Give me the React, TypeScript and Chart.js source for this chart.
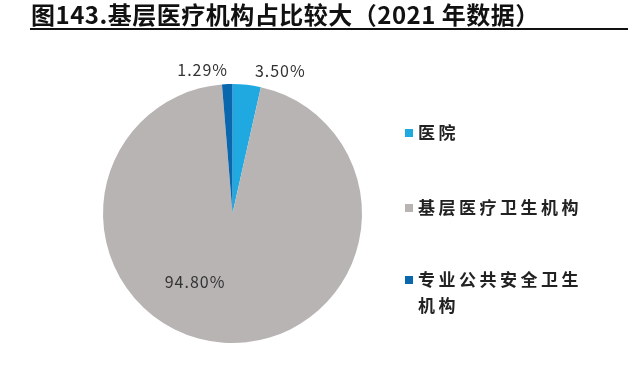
import React, { useEffect, useRef } from "react";
import { Chart, registerables } from "chart.js";

Chart.register(...registerables);

const categories = ["医院", "基层医疗卫生机构", "专业公共安全卫生机构"];
const legendLines = [["医院"], ["基层医疗卫生机构"], ["专业公共安全卫生", "机构"]];
const shares = [3.5, 94.8, 1.29];
const valueLabels = ["3.50%", "94.80%", "1.29%"];
const colors = ["#1fa9e0", "#b9b4b4", "#0b67ad"];
const title = "图143.基层医疗机构占比较大（2021 年数据）";

const overlayPlugin = {
  id: "overlay",
  afterDraw(chart: any) {
    const ctx = chart.ctx as any;
    ctx.save();
    // title
    ctx.fillStyle = "#111";
    ctx.font = "bold 24px 'Noto Sans CJK SC', sans-serif";
    ctx.letterSpacing = "0.5px";
    ctx.textBaseline = "middle";
    ctx.textAlign = "left";
    ctx.fillText(title, 31, 15);
    ctx.fillStyle = "#111";
    ctx.fillRect(30, 28, 598, 2);

    // value labels
    const meta = chart.getDatasetMeta(0);
    ctx.font = "16px 'Noto Sans CJK SC', sans-serif";
    ctx.letterSpacing = "1px";
    ctx.fillStyle = "#333";
    ctx.textAlign = "center";
    meta.data.forEach((arc: any, i: number) => {
      const p = arc.getProps(["x", "y", "startAngle", "endAngle", "outerRadius"], true);
      const mid = (p.startAngle + p.endAngle) / 2;
      let r: number;
      let dx = 0;
      let dy = 0;
      if (i === 1) {
        r = p.outerRadius * 0.6;
        dx = -32;
        dy = -9;
      } else {
        r = p.outerRadius + 14;
        dx = i === 0 ? 32 : -24;
      }
      ctx.fillText(valueLabels[i], p.x + Math.cos(mid) * r + dx, p.y + Math.sin(mid) * r + dy);
    });

    // legend
    const ys = [133, 208, 280];
    ctx.textAlign = "left";
    ctx.font = "bold 17px 'Noto Sans CJK SC', sans-serif";
    ctx.letterSpacing = "3.5px";
    legendLines.forEach((lines, i) => {
      ctx.fillStyle = colors[i];
      ctx.fillRect(405, ys[i] - 4, 8, 8);
      ctx.fillStyle = "#222";
      lines.forEach((ln, j) => {
        ctx.fillText(ln, 418, ys[i] + j * 26);
      });
    });
    ctx.restore();
  },
};

export default function App() {
  const ref = useRef<HTMLCanvasElement>(null);
  useEffect(() => {
    document.body.style.margin = "0";
    const chart = new Chart(ref.current!, {
      type: "pie",
      data: {
        labels: categories,
        datasets: [
          {
            data: shares,
            backgroundColor: colors,
            borderWidth: 0,
          },
        ],
      },
      options: {
        animation: false,
        responsive: false,
        layout: { padding: { left: 103, right: 278, top: 84, bottom: 23 } },
        plugins: {
          legend: { display: false },
          tooltip: { enabled: false },
        },
      },
      plugins: [overlayPlugin],
    });
    return () => chart.destroy();
  }, []);
  return (
    <div style={{ width: 640, height: 366, background: "#fff" }}>
      <canvas ref={ref} width={640} height={366} />
    </div>
  );
}
